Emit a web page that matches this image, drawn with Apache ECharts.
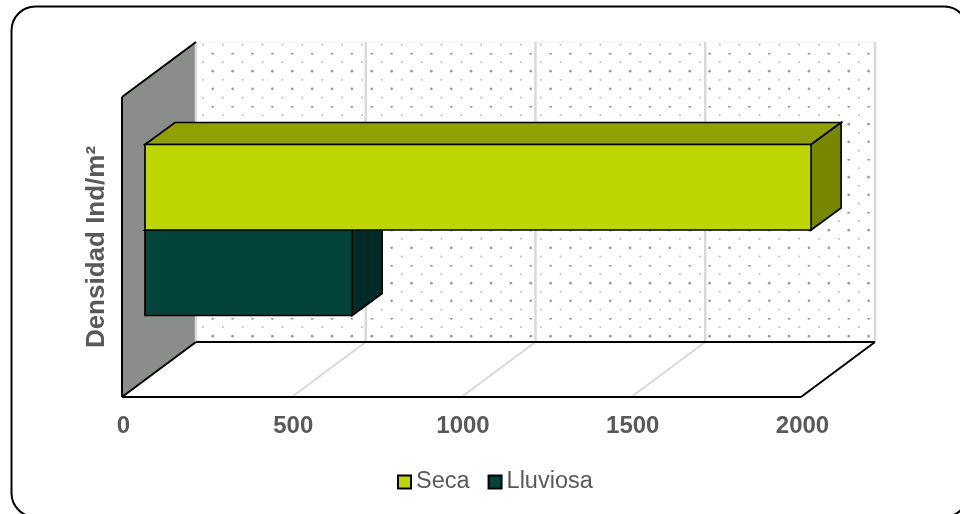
<!DOCTYPE html>
<html>
<head>
<meta charset="utf-8">
<style>html,body{margin:0;padding:0;background:#fff}#c{width:960px;height:514px}</style>
<script src="https://cdn.jsdelivr.net/npm/echarts@6/dist/echarts.min.js"></script>
</head>
<body>
<div id="c"></div>
<script>
const categories = ['Densidad'];
const seriesNames = ['Seca', 'Lluviosa'];
const secaValues = [1962];
const lluviosaValues = [610];
const xTicks = [0, 500, 1000, 1500, 2000];
const axisTitle = 'Densidad Ind/m\u00B2';

const WALL = [74, -55];
const BAR_OFFSET = [23, -17];
const BAR_DEPTH = [30, -22];
const BAR_H = 85.5;
const LINE = '#000';
const FONT = '"Liberation Sans", Arial, sans-serif';

function dots() {
  const cv = document.createElement('canvas');
  cv.width = 159; cv.height = 53;
  const g = cv.getContext('2d');
  g.fillStyle = '#fff'; g.fillRect(0, 0, 159, 53);
  const stepX = 159 / 8, stepY = 53 / 3;
  for (let r = 0; r < 3; r++) for (let k = 0; k < 8; k++) {
    g.fillStyle = '#9a9a9a';
    g.beginPath(); g.arc((14 + k * stepX) % 159, (0.5 + r * stepY) % 53, 1.35, 0, 7); g.fill();
    g.fillStyle = '#c6c6c6';
    g.beginPath(); g.arc((4.2 + k * stepX) % 159, (9.2 + r * stepY) % 53, 1.1, 0, 7); g.fill();
  }
  return cv;
}
const dotPattern = { image: dots(), repeat: 'repeat' };

function poly(points, fill, stroke, w) {
  return { type: 'polygon', shape: { points }, style: { fill: fill, stroke: stroke || null, lineWidth: w || 0, lineJoin: 'miter' } };
}
function seg(a, b, stroke, w) {
  return { type: 'line', shape: { x1: a[0], y1: a[1], x2: b[0], y2: b[1] }, style: { stroke, lineWidth: w } };
}

function renderFrame(params, api) {
  const band = api.size([0, 1])[1];
  const mid = api.coord([0, 0]);
  const top = mid[1] - band / 2, bot = mid[1] + band / 2;
  const x0 = api.coord([xTicks[0], 0])[0];
  const x1 = api.coord([xTicks[xTicks.length - 1], 0])[0];
  const dx = WALL[0], dy = WALL[1];
  const ch = [];
  ch.push(poly([[x0 + dx, top + dy], [x1 + dx, top + dy], [x1 + dx, bot + dy], [x0 + dx, bot + dy]], dotPattern));
  ch.push(seg([x0 + dx, top + dy], [x1 + dx, top + dy], '#f0f0f0', 1));
  ch.push(poly([[x0, top], [x0 + dx, top + dy], [x0 + dx, bot + dy], [x0, bot]], '#8b8d8b'));
  xTicks.forEach(function (t, i) {
    const x = api.coord([t, 0])[0];
    ch.push(seg([x + dx, top + dy], [x + dx, bot + dy], '#d9d9d9', 2.5));
    if (i > 0 && i < xTicks.length - 1) ch.push(seg([x + dx, bot + dy], [x, bot], '#d9d9d9', 2));
  });
  ch.push(seg([x0, bot], [x0, top], LINE, 2));
  ch.push(seg([x0, top], [x0 + dx, top + dy], LINE, 2));
  ch.push(seg([x0, bot], [x0 + dx, bot + dy], LINE, 2));
  ch.push(seg([x0 + dx, bot + dy], [x1 + dx, bot + dy], LINE, 2));
  ch.push(seg([x1 + dx, bot + dy], [x1, bot], LINE, 2));
  ch.push(seg([x1, bot], [x0, bot], LINE, 2));
  return { type: 'group', children: ch };
}

function barRenderer(row, front, topC, sideC) {
  return function (params, api) {
    const c = api.coord([0, api.value(1)]);
    const xBase = c[0] + BAR_OFFSET[0];
    const xEnd = api.coord([api.value(0), api.value(1)])[0] + BAR_OFFSET[0];
    const yT = c[1] + BAR_OFFSET[1] + (row - 1) * BAR_H;
    const yB = yT + BAR_H;
    const dx = BAR_DEPTH[0], dy = BAR_DEPTH[1];
    return {
      type: 'group',
      children: [
        poly([[xBase, yT], [xEnd, yT], [xEnd + dx, yT + dy], [xBase + dx, yT + dy]], topC, LINE, 1.7),
        poly([[xEnd, yT], [xEnd + dx, yT + dy], [xEnd + dx, yB + dy], [xEnd, yB]], sideC, LINE, 1.7),
        poly([[xBase, yT], [xEnd, yT], [xEnd, yB], [xBase, yB]], front, LINE, 1.7)
      ]
    };
  };
}

const chart = echarts.init(document.getElementById('c'), null, { renderer: 'canvas' });
chart.setOption({
  animation: false,
  backgroundColor: '#fff',
  textStyle: { fontFamily: FONT },
  graphic: [{
    type: 'rect', z: -10, silent: true,
    shape: { x: 11.5, y: 6.5, width: 956.5, height: 510.5, r: 24 },
    style: { fill: '#fff', stroke: '#000', lineWidth: 2 }
  }],
  legend: {
    left: 392, top: 465, itemWidth: 13, itemHeight: 13, itemGap: 18,
    data: seriesNames.map(function (n) { return { name: n, icon: 'rect' }; }),
    itemStyle: { borderColor: '#000', borderWidth: 2 },
    textStyle: { color: '#595959', fontSize: 23.5, fontFamily: FONT }
  },
  grid: { left: 122, right: 159, top: 97, bottom: 117 },
  xAxis: {
    type: 'value', min: 0, max: 2000, interval: 500,
    axisLine: { show: false }, axisTick: { show: false }, splitLine: { show: false },
    axisLabel: { color: '#595959', fontSize: 24, fontWeight: 'bold', margin: 17, padding: [0, 0, 0, 3], fontFamily: FONT,
      formatter: function (v) { return String(v); } }
  },
  yAxis: {
    type: 'category', data: categories,
    axisLine: { show: false }, axisTick: { show: false }, axisLabel: { show: false }, splitLine: { show: false },
    name: axisTitle, nameLocation: 'middle', nameGap: 12, nameRotate: 90,
    nameTextStyle: { color: '#595959', fontSize: 26, fontWeight: 'bold', fontFamily: FONT }
  },
  series: [
    { type: 'custom', name: 'frame', silent: true, clip: false, z: 1, renderItem: renderFrame,
      encode: { x: 0, y: 1 }, data: [[0, 0]] },
    { type: 'custom', name: seriesNames[1], clip: false, z: 2, itemStyle: { color: '#03433a' },
      renderItem: barRenderer(1, '#03433a', '#012c25', '#012c25'),
      encode: { x: 0, y: 1 }, data: lluviosaValues.map(function (v, i) { return [v, i]; }) },
    { type: 'custom', name: seriesNames[0], clip: false, z: 3, itemStyle: { color: '#bdd500' },
      renderItem: barRenderer(0, '#bdd500', '#8fa000', '#788600'),
      encode: { x: 0, y: 1 }, data: secaValues.map(function (v, i) { return [v, i]; }) }
  ]
});
</script>
</body>
</html>
